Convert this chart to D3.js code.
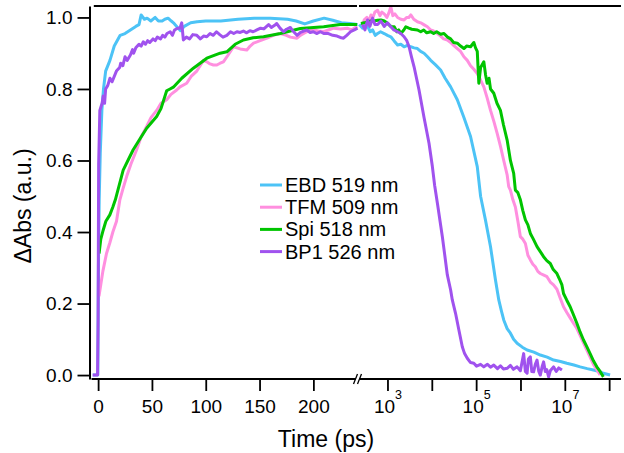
<!DOCTYPE html>
<html>
<head>
<meta charset="utf-8">
<script src="https://cdn.jsdelivr.net/npm/d3@7/dist/d3.min.js"></script>
<style>
html,body{margin:0;padding:0;background:#fff;}
svg{display:block;font-family:"Liberation Sans",Arial,sans-serif;}
</style>
</head>
<body>
<svg id="chart" width="624" height="453"></svg>
<script>
// ---------- DATA ----------
const seriesNames = ["EBD 519 nm", "TFM 509 nm", "Spi 518 nm", "BP1 526 nm"];
const seriesColors = ["#4cc3f6", "#ff8fdf", "#00c400", "#a052ee"];

const linTicks = [0, 50, 100, 150, 200];
const logTicks = [1e3, 1e4, 1e5, 1e6, 1e7, 1e8];
const logTickLabels = ["3", "", "5", "", "7", ""];
const yTicks = [0.0, 0.2, 0.4, 0.6, 0.8, 1.0];

// EBD 519 nm
const ebdLinT = [-5,-0.3,0.3,1.0,2,3.5,5,7,11,15,20.5,25,30,35,38,40,43,45.5,49,53,56,59.5,62,65,68,70,73,76.6,80,86,92,100,114,130,145,160,176,184,192,200,210,218,226,234,241];
const ebdLinV = [0,0,0.3,0.49,0.62,0.74,0.8,0.85,0.88,0.92,0.95,0.955,0.965,0.975,0.98,1.007,0.995,0.998,0.99,1.0,0.99,0.99,0.995,0.998,0.99,0.985,0.975,0.963,0.975,0.985,0.988,0.99,0.99,0.995,0.998,0.998,0.995,0.99,0.982,0.99,0.998,0.992,0.985,0.983,0.98];
const ebdLogT = [231,275,310,357,410,462,530,600,700,843,1000,1190,1400,1690,2000,2370,2800,3360,4000,4740,5600,6680,8000,9440,12000,15800,20000,26600,37600,53000,74800,106000,126000,162000,211000,273000,324000,370000,419000,500000,593000,700000,839000,1.1e6,1.41e6,2e6,2.8e6,4e6,5.57e6,8e6,1.11e7,1.6e7,2.22e7,3.2e7,4.42e7,6e7,7.41e7,1.05e8];
const ebdLogV = [0.98,0.97,0.978,0.975,0.96,0.965,0.95,0.955,0.96,0.955,0.95,0.946,0.935,0.923,0.925,0.918,0.922,0.918,0.915,0.913,0.905,0.9,0.89,0.88,0.868,0.853,0.83,0.806,0.77,0.72,0.667,0.583,0.5,0.434,0.359,0.266,0.21,0.18,0.154,0.13,0.117,0.1,0.089,0.078,0.07,0.064,0.056,0.05,0.042,0.038,0.033,0.028,0.023,0.018,0.014,0.01,0.005,0.0];

// TFM 509 nm
const tfmLinT = [0.8,4.4,7.8,10.9,13.7,17.1,20.2,23,26.5,30.5,35.8,39.8,45.1,49.1,54.4,58.4,63.7,67.7,73,76.1,82.3,86.4,91.7,97.8,101,104,107.1,110.3,113.4,116.4,120.8,125.8,132,138.2,141.3,144.4,150.6,156.9,162.7,169.3,174.9,178.6,184.8,187.9,191,195.3,200.3,204.7,209.6,214,218.9,225.2,231.4,235.4,240.7];
const tfmLinV = [0.22,0.29,0.34,0.37,0.40,0.43,0.49,0.52,0.555,0.59,0.63,0.665,0.695,0.72,0.74,0.76,0.77,0.785,0.797,0.806,0.816,0.835,0.85,0.88,0.876,0.87,0.867,0.867,0.872,0.876,0.895,0.918,0.912,0.909,0.92,0.928,0.935,0.942,0.95,0.955,0.95,0.945,0.942,0.95,0.955,0.962,0.965,0.962,0.96,0.965,0.97,0.968,0.97,0.965,0.975];
const tfmLogT = [275,299,344,382,424,470,521,600,675,748,843,970,1070,1190,1320,1470,1690,2000,2370,2730,3030,3360,3920,4740,5630,6580,7960,9440,11000,13400,15800,18500,22400,26600,31000,37600,44600,53000,63100,74800,88700,106000,126000,149000,177000,211000,250000,298000,353000,419000,500000,543000,593000,675000,767000,874000,995000,1.13e6,1.29e6,1.47e6,1.67e6,1.9e6,2.16e6,2.46e6,2.8e6,3.27e6,3.96e6,4.7e6,5.57e6,6.64e6,7.89e6,9.35e6,1.11e7,1.32e7,1.57e7,1.87e7,2.22e7,2.64e7,3.14e7,3.72e7,4.42e7,5.27e7,6.25e7];
const tfmLogV = [0.975,0.993,1.0,0.99,1.007,1.0,1.015,1.02,1.005,1.015,1.01,1.0,1.012,1.03,1.005,1.01,1.0,0.995,0.993,1.0,1.0,1.007,0.995,0.988,0.985,0.98,0.974,0.965,0.962,0.955,0.948,0.94,0.937,0.93,0.922,0.913,0.905,0.89,0.88,0.865,0.855,0.843,0.825,0.806,0.775,0.74,0.71,0.676,0.64,0.6,0.56,0.527,0.517,0.49,0.47,0.43,0.387,0.38,0.368,0.335,0.322,0.31,0.303,0.29,0.284,0.28,0.275,0.26,0.252,0.24,0.215,0.191,0.175,0.16,0.145,0.13,0.11,0.09,0.07,0.05,0.03,0.015,0.0];

// Spi 518 nm
const spiLinT = [0.9,2.5,4.7,7.2,10.9,13.7,16,23.3,27.7,32.6,38.8,45.1,54.4,58.4,63.7,66.8,69.9,77.7,88.5,101,113.4,119.6,127.3,135,144,153.7,169.3,187.9,209.6,225,240.7];
const spiLinV = [0.34,0.38,0.405,0.43,0.448,0.47,0.49,0.573,0.6,0.63,0.66,0.69,0.723,0.745,0.795,0.8,0.805,0.83,0.858,0.886,0.9,0.904,0.925,0.937,0.943,0.946,0.955,0.969,0.974,0.98,0.98];
const spiLogT = [252,300,357,420,494,600,711,850,970,1190,1420,1630,1800,2000,2340,2590,3030,3530,4740,5630,6580,7680,9440,11000,12900,15800,18800,22700,26600,31000,37600,44600,53000,60800,74800,88700,97000,106000,115000,126000,149000,163000,177000,195000,211000,250000,295000,353000,413000,500000,593000,703000,767000,874000,995000,1.13e6,1.29e6,1.47e6,1.67e6,1.95e6,2.36e6,2.8e6,3.32e6,3.92e6,4.7e6,5.49e6,6.64e6,7.48e6,8.61e6,9.35e6,1.1e7,1.32e7,1.55e7,1.87e7,2.22e7,2.64e7,3.11e7,3.72e7,4.42e7,5.27e7,6.25e7,7.41e7];
const spiLogV = [0.983,0.985,0.988,0.99,0.99,0.992,0.993,0.99,0.985,0.975,0.974,0.96,0.965,0.955,0.965,0.974,0.97,0.967,0.965,0.96,0.965,0.957,0.96,0.955,0.96,0.953,0.955,0.945,0.94,0.93,0.928,0.92,0.913,0.92,0.918,0.93,0.915,0.905,0.816,0.86,0.876,0.84,0.816,0.83,0.8,0.788,0.76,0.74,0.7,0.657,0.6,0.564,0.517,0.51,0.49,0.46,0.434,0.42,0.396,0.38,0.359,0.345,0.331,0.32,0.312,0.295,0.284,0.27,0.252,0.228,0.21,0.191,0.17,0.145,0.12,0.098,0.08,0.06,0.04,0.023,0.01,-0.005];

// BP1 526 nm
const bp1LinT = [-5,-0.5,0,0.5,1.6,3.7,4.7,6,7,9,11,13,17,20,21,23,25,27,30,32,33,35,38,40,42,44,46,48,51,53,55,58,60,62,64,67,69,71,74,76,77.7,79.2,82,85,88,91.7,95,98,101,104,107,110,113,116,119.6,123,126,129,132,135,138,141,144,147.5,151,154,158.4,161,164,166,169,172.3,175,178.6,181,184.8,188,191,194,197,200,203,206.5,210,214,218,222,225,228,231,234.5,238,241];
const bp1LinV = [0,0,0.15,0.59,0.74,0.76,0.78,0.76,0.8,0.81,0.83,0.82,0.85,0.86,0.872,0.865,0.89,0.88,0.895,0.91,0.9,0.915,0.925,0.92,0.932,0.925,0.935,0.93,0.94,0.935,0.945,0.94,0.95,0.945,0.955,0.96,0.95,0.965,0.97,0.97,0.985,0.937,0.945,0.94,0.952,0.95,0.94,0.948,0.946,0.955,0.95,0.96,0.952,0.945,0.95,0.96,0.955,0.96,0.958,0.962,0.957,0.963,0.96,0.965,0.97,0.968,0.98,0.972,0.978,0.983,0.97,0.96,0.967,0.972,0.962,0.95,0.958,0.962,0.965,0.958,0.96,0.955,0.96,0.955,0.955,0.95,0.948,0.944,0.942,0.95,0.96,0.965,0.97];
const bp1LogT = [275,311,357,402,462,521,600,711,843,1000,1190,1390,1690,2000,2370,2730,3070,3480,3980,5150,6680,8650,10300,11600,13400,17300,22400,26600,29000,34400,40800,48700,54900,63100,74800,88700,102000,126000,149000,180000,211000,250000,303000,353000,413000,500000,593000,693000,839000,995000,1.18e6,1.29e6,1.41e6,1.51e6,1.67e6,1.8e6,1.98e6,2.16e6,2.36e6,2.59e6,2.8e6,3.1e6,3.32e6,3.63e6,3.92e6,4.31e6,4.7e6,5.57e6,6.41e6,7.3e6,8.61e6];
const bp1LogV = [0.98,0.965,0.993,0.975,0.998,0.98,0.98,0.99,0.975,0.985,0.974,0.965,0.96,0.955,0.946,0.935,0.918,0.89,0.862,0.797,0.72,0.648,0.583,0.53,0.48,0.387,0.28,0.238,0.21,0.172,0.126,0.079,0.06,0.047,0.035,0.033,0.025,0.03,0.023,0.03,0.022,0.028,0.018,0.026,0.017,0.019,0.027,0.016,0.023,0.012,0.06,0.01,0.005,0.045,0.051,0.01,0.009,0.03,0.042,0.01,0.0,0.025,0.037,0.01,0.015,-0.005,0.012,0.023,0.01,0.02,0.014];

const seriesLin = [[ebdLinT, ebdLinV],[tfmLinT, tfmLinV],[spiLinT, spiLinV],[bp1LinT, bp1LinV]];
const seriesLog = [[ebdLogT, ebdLogV],[tfmLogT, tfmLogV],[spiLogT, spiLogV],[bp1LogT, bp1LogV]];

// ---------- LAYOUT ----------
const FONT = "Liberation Sans, Arial, sans-serif";
const svg = d3.select("#chart");
const yAxisX = 89.5, xAxisY = 379, topY = 6;
const breakX = 357.5;

const y = d3.scaleLinear().domain([-0.011, 1.032]).range([xAxisY, topY]);
const xLin = d3.scaleLinear().domain([-8, 241]).range([yAxisX, breakX]);
const xLog = d3.scaleLog().domain([228, 1.85e8]).range([breakX + 1.5, 621]);

const line = (xs) => d3.line().x(d => xs(d[0])).y(d => y(d[1]));

// series
const g = svg.append("g");
[0,1,2,3].forEach(i => {
  const lin = seriesLin[i][0].map((t, k) => [t, seriesLin[i][1][k]]);
  const lg = seriesLog[i][0].map((t, k) => [t, seriesLog[i][1][k]]);
  g.append("path").attr("d", line(xLin)(lin))
    .attr("fill","none").attr("stroke", seriesColors[i]).attr("stroke-width", 3)
    .attr("stroke-linejoin","round");
  g.append("path").attr("d", line(xLog)(lg))
    .attr("fill","none").attr("stroke", seriesColors[i]).attr("stroke-width", 3)
    .attr("stroke-linejoin","round");
});

// top frame
svg.append("line").attr("x1", xLin(-4)).attr("x2", breakX - 0.5).attr("y1", topY).attr("y2", topY)
  .attr("stroke","#000").attr("stroke-width",2);
svg.append("line").attr("x1", breakX + 1.5).attr("x2", xLog.range()[1]).attr("y1", topY).attr("y2", topY)
  .attr("stroke","#000").attr("stroke-width",2);

// y axis
const yAx = svg.append("g").attr("transform", `translate(${yAxisX},0)`)
  .call(d3.axisLeft(y).tickValues(yTicks).tickFormat(d3.format(".1f")).tickSize(12).tickSizeOuter(0).tickPadding(5));
yAx.select(".domain").attr("stroke-width", 2);
yAx.selectAll(".tick line").attr("stroke-width", 1.8);
yAx.selectAll("text").attr("font-size", 19).attr("font-family", FONT).attr("fill","#000");

// x axis (linear part)
const xAxG1 = svg.append("g").attr("transform", `translate(0,${xAxisY})`)
  .call(d3.axisBottom(xLin).tickValues(linTicks).tickSize(12).tickSizeOuter(0).tickPadding(9));
xAxG1.select(".domain").remove();
xAxG1.selectAll(".tick line").attr("stroke-width", 1.8);
xAxG1.selectAll("text").attr("font-size", 19).attr("font-family", FONT).attr("fill","#000");

// x axis (log part)
const xAxG2 = svg.append("g").attr("transform", `translate(0,${xAxisY})`)
  .call(d3.axisBottom(xLog).tickValues(logTicks).tickFormat(() => "").tickSize(12).tickSizeOuter(0).tickPadding(9));
xAxG2.select(".domain").remove();
xAxG2.selectAll(".tick line").attr("stroke-width", 1.8);
xAxG2.selectAll(".tick text").each(function(d, i) {
  const lbl = logTickLabels[i];
  const t = d3.select(this).attr("font-size", 19).attr("font-family", FONT).attr("fill","#000");
  if (lbl) {
    t.append("tspan").text("10");
    t.append("tspan").attr("dy", -14).attr("font-size", 12.5).text(lbl);
  }
});

// x axis line spanning both parts
svg.append("line").attr("x1", xLin.range()[0] + 2).attr("x2", xLog.range()[1]).attr("y1", xAxisY).attr("y2", xAxisY)
  .attr("stroke","#000").attr("stroke-width",2);

// axis break mark
svg.append("rect").attr("x", breakX - 1.5).attr("y", xAxisY - 3).attr("width", 4).attr("height", 6).attr("fill","#fff");
[-2, 2].forEach(o => {
  svg.append("line").attr("x1", breakX + o - 2).attr("y1", xAxisY + 5).attr("x2", breakX + o + 2).attr("y2", xAxisY - 5)
    .attr("stroke","#000").attr("stroke-width",1.3);
});

// axis titles
svg.append("text").attr("x", 326).attr("y", 447)
  .attr("text-anchor","middle").attr("font-size", 23).attr("fill","#000").text("Time (ps)");
svg.append("text").attr("transform", `translate(31,206) rotate(-90)`)
  .attr("text-anchor","middle").attr("font-size", 23).attr("fill","#000").text("\u0394Abs (a.u.)");

// legend
const leg = svg.append("g").attr("transform", "translate(260,185)");
seriesNames.forEach((n, i) => {
  const r = leg.append("g").attr("transform", `translate(0,${i * 22.2})`);
  r.append("line").attr("x1", 0).attr("x2", 22).attr("y1", 0).attr("y2", 0)
    .attr("stroke", seriesColors[i]).attr("stroke-width", 3);
  r.append("text").attr("x", 25).attr("y", 7).attr("font-size", 20).attr("fill","#000").text(n);
});
</script>
</body>
</html>
